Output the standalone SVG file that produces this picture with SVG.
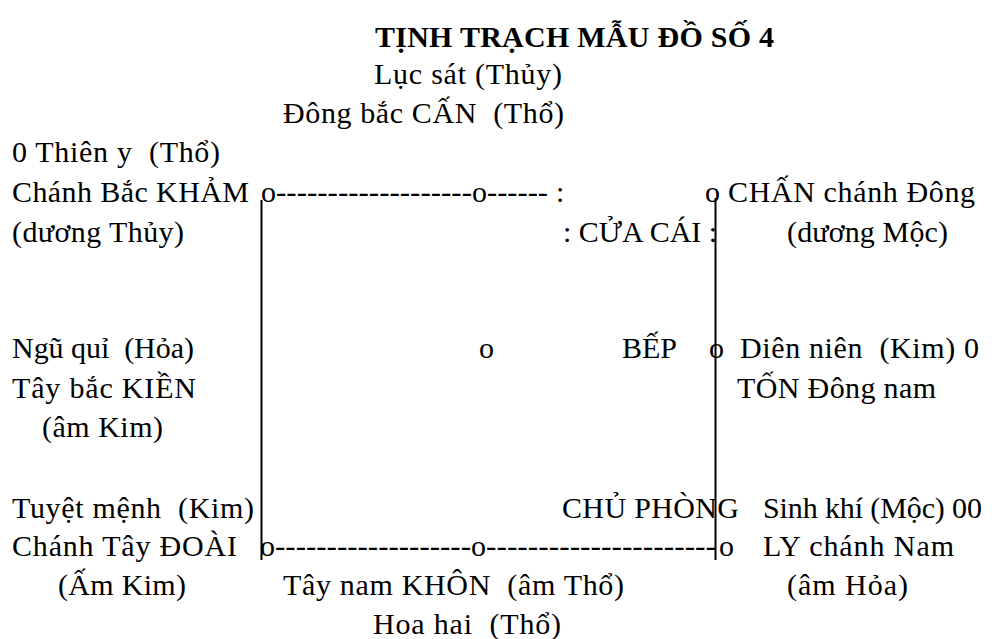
<svg xmlns="http://www.w3.org/2000/svg" width="992" height="639" viewBox="0 0 992 639" xml:space="preserve">
<style>
text{font-family:"Liberation Serif","Times New Roman",serif;font-size:30px;fill:#000;white-space:pre}
.title{font-weight:bold}
.ln{stroke:#000;stroke-width:2;fill:none}
</style>
<rect width="992" height="639" fill="#fff"/>
<g id="title"><text class="title" x="375" y="47" textLength="399" lengthAdjust="spacing">TỊNH TRẠCH MẪU ĐỒ SỐ 4</text></g>
<g id="north-east"><text x="374" y="84" textLength="188" lengthAdjust="spacing">Lục sát (Thủy)</text><text x="283" y="123" textLength="281" lengthAdjust="spacing">Đông bắc CẤN  (Thổ)</text></g>
<g id="north"><text x="12" y="162" textLength="208" lengthAdjust="spacing">0 Thiên y  (Thổ)</text><text x="12" y="202" textLength="237" lengthAdjust="spacing">Chánh Bắc KHẢM</text><text x="12" y="242" textLength="172" lengthAdjust="spacing">(dương Thủy)</text></g>
<g id="east"><text x="728" y="202" textLength="247" lengthAdjust="spacing">CHẤN chánh Đông</text><text x="787" y="242" textLength="161" lengthAdjust="spacing">(dương Mộc)</text></g>
<g id="door"><text x="563" y="242">: CỬA CÁI :</text></g>
<g id="north-west"><text x="12" y="358" textLength="182" lengthAdjust="spacing">Ngũ quỉ  (Hỏa)</text><text x="12" y="398" textLength="184" lengthAdjust="spacing">Tây bắc KIỀN</text><text x="42" y="437" textLength="121" lengthAdjust="spacing">(âm Kim)</text></g>
<g id="kitchen"><text x="622" y="358">BẾP</text></g>
<g id="south-east"><text x="740" y="358" textLength="239" lengthAdjust="spacing">Diên niên  (Kim) 0</text><text x="737" y="398" textLength="199" lengthAdjust="spacing">TỐN Đông nam</text></g>
<g id="west"><text x="12" y="518" textLength="242" lengthAdjust="spacing">Tuyệt mệnh  (Kim)</text><text x="12" y="556" textLength="225" lengthAdjust="spacing">Chánh Tây ĐOÀI</text><text x="58" y="595" textLength="128" lengthAdjust="spacing">(Ấm Kim)</text></g>
<g id="master-room"><text x="562" y="518" textLength="177" lengthAdjust="spacing">CHỦ PHÒNG</text></g>
<g id="south"><text x="763" y="518" textLength="219" lengthAdjust="spacing">Sinh khí (Mộc) 00</text><text x="763" y="556" textLength="191" lengthAdjust="spacing">LY chánh Nam</text><text x="787" y="595" textLength="121" lengthAdjust="spacing">(âm Hỏa)</text></g>
<g id="south-west"><text x="283" y="595" textLength="341" lengthAdjust="spacing">Tây nam KHÔN  (âm Thổ)</text><text x="373" y="634" textLength="188" lengthAdjust="spacing">Hoa hai  (Thổ)</text></g>
<g id="connectors">
<line class="ln" x1="261.5" y1="200" x2="261.5" y2="560"/>
<line class="ln" x1="715.5" y1="198" x2="715.5" y2="560"/>
<text x="261" y="202">o</text><text x="276" y="202" textLength="196" lengthAdjust="spacingAndGlyphs">-------------------</text><text x="472" y="202">o</text><text x="487" y="202" textLength="61" lengthAdjust="spacingAndGlyphs">------</text><text x="556" y="202">:</text>
<text x="705" y="202">o</text>
<text x="479" y="358">o</text><text x="709" y="358">o</text>
<text x="260" y="556">o</text><text x="275" y="556" textLength="196" lengthAdjust="spacingAndGlyphs">-------------------</text><text x="471" y="556">o</text><text x="486" y="556" textLength="230" lengthAdjust="spacingAndGlyphs">----------------------</text><text x="719" y="556">o</text>
</g>
</svg>
